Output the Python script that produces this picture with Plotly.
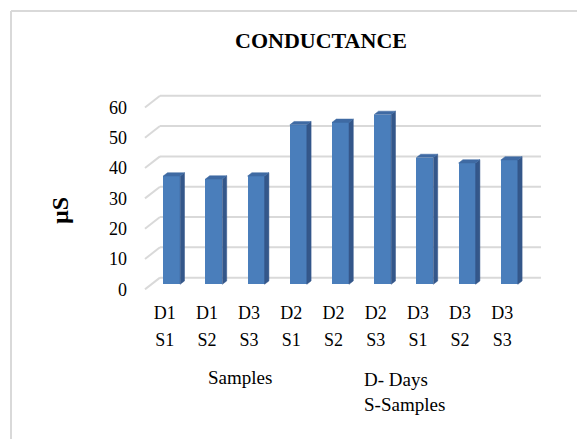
import plotly.graph_objects as go

# ---- data ----
days = ["D1", "D1", "D3", "D2", "D2", "D2", "D3", "D3", "D3"]
samples = ["S1", "S2", "S3", "S1", "S2", "S3", "S1", "S2", "S3"]
conductance = [35.7, 34.7, 35.7, 52.6, 53.4, 56.0, 41.8, 40.0, 41.0]
y_ticks = [0, 10, 20, 30, 40, 50, 60]

# ---- geometry / style ----
FONT = "Liberation Serif"
W, H = 577, 439
L, R, T, B = 140, 32, 90, 149
x_rng = [-0.751, 8.846]
y_rng = [-1.88, 64.1]
bar_w = 0.403
dxs, dys = 0.102, 1.12          # depth shift of bar side/top
wall_dx, wall_dy = 0.356, 3.86  # floor depth (front edge -> wall)
wall_x0, wall_x1 = -0.277, 8.75
grid_off = 2.2
lab_shift_x = 0.166
lab_shift_y = 1.66

FRONT = "#4a7ebb"
SIDE = "#34578a"
TOP = "#3f6aa3"
GRID = "#d9d9d9"

pw, ph = W - L - R, H - T - B
def px(x):
    return (x - L) / pw
def py(y):
    return (H - B - y) / ph

idx = list(range(len(conductance)))
fig = go.Figure()

# gridlines: back wall + left diagonal (below the bars)
for v in y_ticks:
    fig.add_shape(type="line", xref="x", yref="y", layer="below",
                  x0=wall_x0 - wall_dx, y0=v + grid_off - wall_dy, x1=wall_x0, y1=v + grid_off,
                  line=dict(color=GRID, width=2))
    fig.add_shape(type="line", xref="x", yref="y", layer="below",
                  x0=wall_x0, y0=v + grid_off, x1=wall_x1, y1=v + grid_off,
                  line=dict(color=GRID, width=2))

# front faces
fig.add_trace(go.Bar(x=idx, y=conductance, width=bar_w, marker=dict(color=FRONT, line=dict(width=0)),
                     showlegend=False))

# side and top faces
sx, sy, tx, ty = [], [], [], []
for i, v in zip(idx, conductance):
    r = i + bar_w / 2
    l = i - bar_w / 2
    sx += [r, r + dxs, r + dxs, r, r, None]
    sy += [0, dys, v + dys, v, 0, None]
    tx += [l, l + dxs, r + dxs, r, l, None]
    ty += [v, v + dys, v + dys, v, v, None]
fig.add_trace(go.Scatter(x=sx, y=sy, mode="lines", fill="toself", fillcolor=SIDE,
                         line=dict(width=0.5, color=SIDE), hoverinfo="skip", showlegend=False))
fig.add_trace(go.Scatter(x=tx, y=ty, mode="lines", fill="toself", fillcolor=TOP,
                         line=dict(width=0.5, color=TOP), hoverinfo="skip", showlegend=False))

# invisible traces to activate label axes
fig.add_trace(go.Scatter(x=[None], y=[None], xaxis="x2", yaxis="y2", showlegend=False))
fig.add_trace(go.Scatter(x=[None], y=[None], xaxis="x3", yaxis="y2", showlegend=False))

tickfont = dict(family=FONT, size=18, color="#000000")
fig.update_layout(
    width=W, height=H,
    margin=dict(l=L, r=R, t=T, b=B),
    paper_bgcolor="white", plot_bgcolor="white",
    bargap=0,
    title=dict(text="<b>CONDUCTANCE</b>", font=dict(family=FONT, size=22, color="black"),
               xref="container", yref="container", x=321 / W, y=1 - 40 / H,
               xanchor="center", yanchor="middle"),
    xaxis=dict(range=x_rng, showgrid=False, zeroline=False, showticklabels=False,
               showline=False, fixedrange=True),
    yaxis=dict(range=y_rng, showgrid=False, zeroline=False, showticklabels=False,
               showline=False),
    xaxis2=dict(range=[x_rng[0] + lab_shift_x, x_rng[1] + lab_shift_x], overlaying="x",
                anchor="free", position=0, side="bottom",
                tickmode="array", tickvals=idx, ticktext=days, tickfont=tickfont,
                showgrid=False, zeroline=False, showline=False, ticks="",
                ticklabelstandoff=10),
    xaxis3=dict(range=[x_rng[0] + lab_shift_x, x_rng[1] + lab_shift_x], overlaying="x",
                anchor="free", position=0, side="bottom",
                tickmode="array", tickvals=idx, ticktext=samples, tickfont=tickfont,
                showgrid=False, zeroline=False, showline=False, ticks="",
                ticklabelstandoff=37),
    yaxis2=dict(range=[y_rng[0] + lab_shift_y, y_rng[1] + lab_shift_y], overlaying="y",
                anchor="free", position=px(145), side="left",
                tickmode="array", tickvals=y_ticks, tickfont=tickfont,
                showgrid=False, zeroline=False, showline=False, ticks="",
                ticklabelstandoff=18),
)

fig.add_annotation(text="<b>µS</b>", textangle=-90, x=px(60), y=py(211), xref="paper", yref="paper",
                   xanchor="center", yanchor="middle",
                   showarrow=False, font=dict(family=FONT, size=24, color="black"))
fig.add_annotation(text="Samples", x=px(240), y=py(377), xref="paper", yref="paper",
                   xanchor="center", yanchor="middle",
                   showarrow=False, font=dict(family=FONT, size=19, color="black"))
fig.add_annotation(text="D- Days<br>S-Samples", x=px(362), y=py(367), xref="paper", yref="paper",
                   xanchor="left", yanchor="top", align="left",
                   showarrow=False, font=dict(family=FONT, size=19, color="black"))

# chart border (only top & left visible in frame)
fig.add_shape(type="line", xref="paper", yref="paper", x0=px(11), y0=py(11), x1=px(600), y1=py(11),
              line=dict(color=GRID, width=2))
fig.add_shape(type="line", xref="paper", yref="paper", x0=px(11), y0=py(11), x1=px(11), y1=py(460),
              line=dict(color=GRID, width=2))

fig.write_html("out.html", post_script="document.body.style.margin='0';",
               config={"displayModeBar": False})
